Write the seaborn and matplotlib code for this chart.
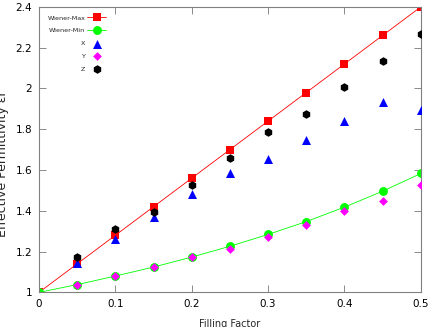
import seaborn as sns
import pandas as pd
import numpy as np
import matplotlib.pyplot as plt

# filling factors and permittivities
fill = [0.0, 0.05, 0.1, 0.15, 0.2, 0.25, 0.3, 0.35, 0.4, 0.45, 0.5]
wiener_max = [1.0, 1.14, 1.28, 1.42, 1.56, 1.70, 1.84, 1.98, 2.12, 2.26, 2.40]
wiener_min = [1.0, 1.038, 1.080, 1.124, 1.173, 1.226, 1.284, 1.347, 1.418, 1.496, 1.583]

fill_sim = [0.05, 0.1, 0.15, 0.2, 0.25, 0.3, 0.35, 0.4, 0.45, 0.5]
eps_x = [1.142, 1.261, 1.371, 1.480, 1.584, 1.652, 1.747, 1.842, 1.935, 1.894]
eps_y = [1.036, 1.080, 1.126, 1.175, 1.211, 1.270, 1.332, 1.399, 1.446, 1.526]
eps_z = [1.175, 1.309, 1.395, 1.526, 1.657, 1.788, 1.873, 2.005, 2.136, 2.268]

xticks = [0, 0.1, 0.2, 0.3, 0.4, 0.5]
xticklabels = ['0', '0.1', '0.2', '0.3', '0.4', '0.5']
yticks = [1, 1.2, 1.4, 1.6, 1.8, 2, 2.2, 2.4]
yticklabels = ['1', '1.2', '1.4', '1.6', '1.8', '2', '2.2', '2.4']

sns.set_style('ticks')
plt.rcParams['font.family'] = ['DejaVu Sans']

wiener = pd.DataFrame({'f': fill, 'max': wiener_max, 'min': wiener_min})
sim = pd.DataFrame({'f': fill_sim, 'X': eps_x, 'Y': eps_y, 'Z': eps_z})

fig = plt.figure(figsize=(4.29, 3.27), dpi=100)
ax = fig.add_axes([0.091, 0.106, 0.890, 0.873])

sns.lineplot(data=wiener, x='f', y='max', ax=ax, color='#ff0000', lw=0.6,
             marker='s', markersize=6.2, markeredgewidth=0, label='Wiener-Max',
             zorder=2)
sns.lineplot(data=wiener, x='f', y='min', ax=ax, color='#00ff00', lw=0.6,
             marker='o', markersize=6.4, markeredgewidth=0, label='Wiener-Min',
             zorder=2)
sns.scatterplot(data=sim, x='f', y='X', ax=ax, color='#0000ff', marker='^',
                s=42, linewidth=0, label='X', zorder=3)
sns.scatterplot(data=sim, x='f', y='Y', ax=ax, color='#ff00ff', marker='D',
                s=20, linewidth=0, label='Y', zorder=3)
sns.scatterplot(data=sim, x='f', y='Z', ax=ax, color='black', marker='h',
                s=38, linewidth=0, label='Z', zorder=3)

ax.set_xlim(0, 0.5)
ax.set_ylim(1, 2.4)
ax.set_xticks(xticks)
ax.set_xticklabels(xticklabels)
ax.set_yticks(yticks)
ax.set_yticklabels(yticklabels)
ax.tick_params(direction='in', top=True, right=True, length=5, width=0.6,
               labelsize=7.5, colors='#777777', labelcolor='black', pad=5)
for sp in ax.spines.values():
    sp.set_visible(True)
    sp.set_color('#808080')
    sp.set_linewidth(0.8)
ax.set_xlabel('')
ax.set_ylabel('')

fig.text(0.005, 0.5, 'Effective Permittivity \u03b5r', rotation=90,
         ha='center', va='center', fontsize=9)
fig.text(0.535, 0.01, 'Filling Factor', ha='center', va='center', fontsize=7)

leg = ax.legend(loc='upper left', markerfirst=False, frameon=False,
                fontsize=4.6, handlelength=3.0, handletextpad=0.3,
                labelspacing=1.15, borderaxespad=0.6, borderpad=0.7)
for t in leg.get_texts():
    t.set_ha('right')
leg._legend_box.align = 'right'

fig.savefig('out.png', dpi=100)
